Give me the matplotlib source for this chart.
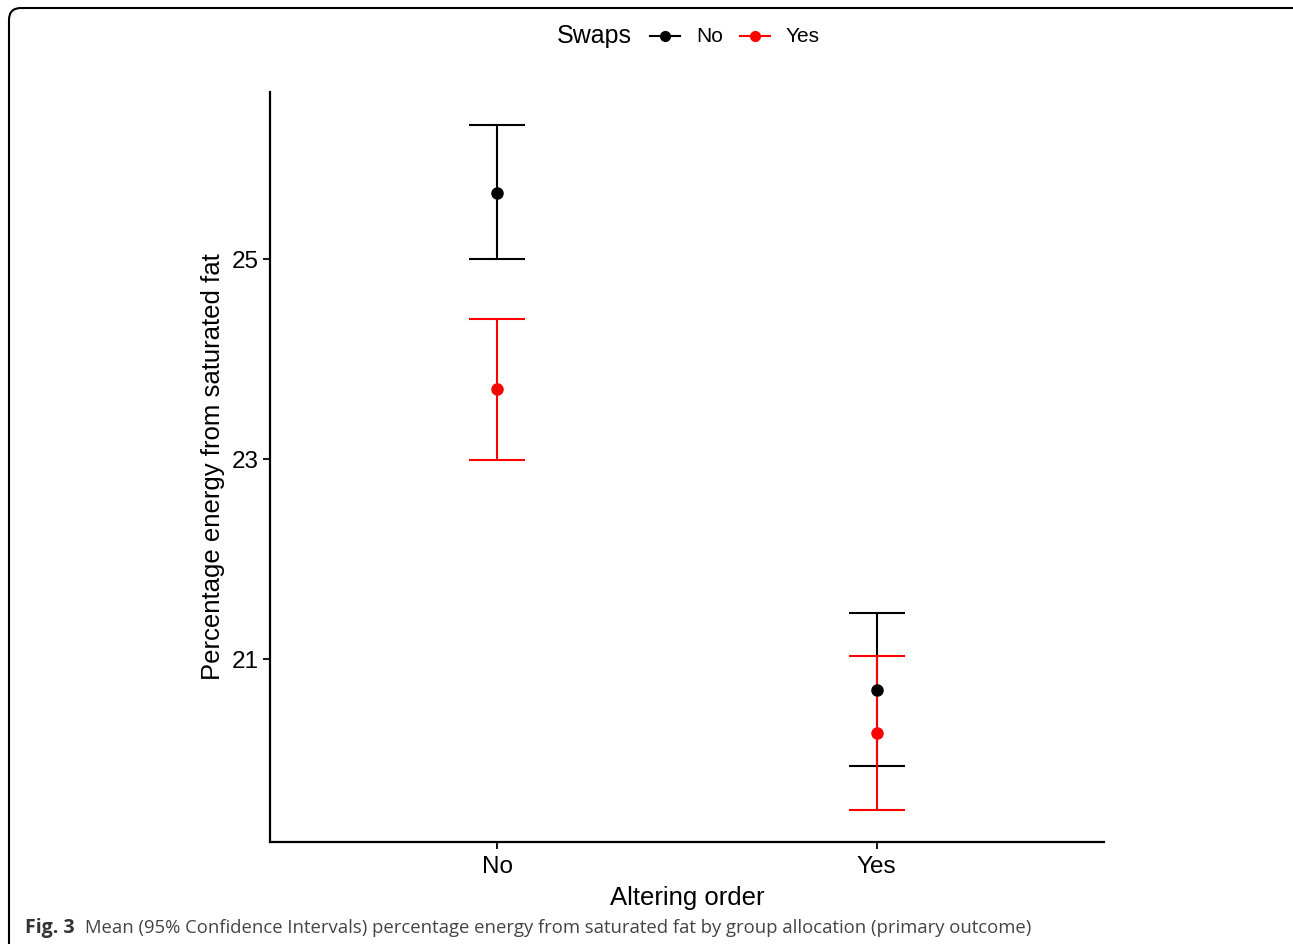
import matplotlib
matplotlib.use("Agg")
import matplotlib.pyplot as plt
from matplotlib.lines import Line2D
from matplotlib.patches import FancyBboxPatch
from matplotlib.transforms import IdentityTransform
import numpy as np

# data
order_groups = ["No", "Yes"]          # Altering order
swaps = ["No", "Yes"]                 # Swaps
swap_colors = ["black", "red"]
means = {"No": [25.66, 20.69], "Yes": [23.70, 20.26]}
lower = {"No": [25.00, 19.93], "Yes": [22.99, 19.49]}
upper = {"No": [26.34, 21.46], "Yes": [24.40, 21.03]}
y_ticks = [21, 23, 25]

plt.rcParams["font.family"] = ["Liberation Sans", "DejaVu Sans"]

W, H = 1293, 944
fig = plt.figure(figsize=(W / 100, H / 100), dpi=100)
ax = fig.add_axes([270 / W, 1 - 842 / H, (1104 - 270) / W, (842 - 92) / H])

x = np.arange(1, len(order_groups) + 1)
# error bars first, then the points on top (like ggplot layer order)
for s, c in zip(swaps, swap_colors):
    m = np.array(means[s])
    lo = np.array(lower[s])
    hi = np.array(upper[s])
    ax.errorbar(x, m, yerr=[m - lo, hi - m], fmt="none", ecolor=c,
                elinewidth=1.5, capsize=20, capthick=1.5, zorder=2)
for s, c in zip(swaps, swap_colors):
    ax.plot(x, means[s], "o", color=c, markersize=8, zorder=3)

ax.set_xlim(0.4, 2.6)
ax.set_ylim(19.17, 26.67)
ax.set_xticks(x)
ax.set_xticklabels(order_groups)
ax.set_yticks(y_ticks)
ax.tick_params(axis="both", labelsize=17.5, length=5, width=1.3, color="black", labelcolor="black")
ax.tick_params(axis="x", pad=5)
ax.tick_params(axis="y", pad=3)
for side in ["top", "right"]:
    ax.spines[side].set_visible(False)
for side in ["left", "bottom"]:
    ax.spines[side].set_linewidth(1.6)
ax.set_xlabel("Altering order", fontsize=18.5, labelpad=6)
ax.set_ylabel("Percentage energy from saturated fat", fontsize=18.5, labelpad=5)

# legend on top, title to the left (placed by hand, pixel positions)
ly = 1 - 36 / H
fig.text(594 / W, ly, "Swaps", fontsize=18, ha="center", va="center")
key_x = [(650, 680), (740, 770)]
text_x = [696, 786]
for (x0, x1), tx, s, c in zip(key_x, text_x, swaps, swap_colors):
    fig.add_artist(Line2D([x0 / W, x1 / W], [ly, ly], color=c, linewidth=1.5, transform=fig.transFigure))
    fig.add_artist(Line2D([(x0 + x1) / 2 / W], [ly], color=c, marker="o", markersize=7,
                          transform=fig.transFigure))
    fig.text(tx / W, ly, s, fontsize=15, ha="left", va="center")

# caption
fig.text(25 / W, 1 - 928 / H, "Fig. 3", fontsize=14, fontweight="bold", color="#333333",
         family=["Open Sans", "DejaVu Sans"], ha="left", va="center")
fig.text(85 / W, 1 - 928 / H,
         "Mean (95% Confidence Intervals) percentage energy from saturated fat by group allocation (primary outcome)",
         fontsize=13.3, color="#444444", family=["Open Sans", "DejaVu Sans"], ha="left", va="center")

# rounded frame around the figure
frame = FancyBboxPatch((9, -20), 1300, H - 8 + 20, boxstyle="round,pad=0,rounding_size=12",
                       transform=IdentityTransform(), fill=False, edgecolor="black", linewidth=1.5)
fig.patches.append(frame)

fig.savefig("out.png", dpi=100)
